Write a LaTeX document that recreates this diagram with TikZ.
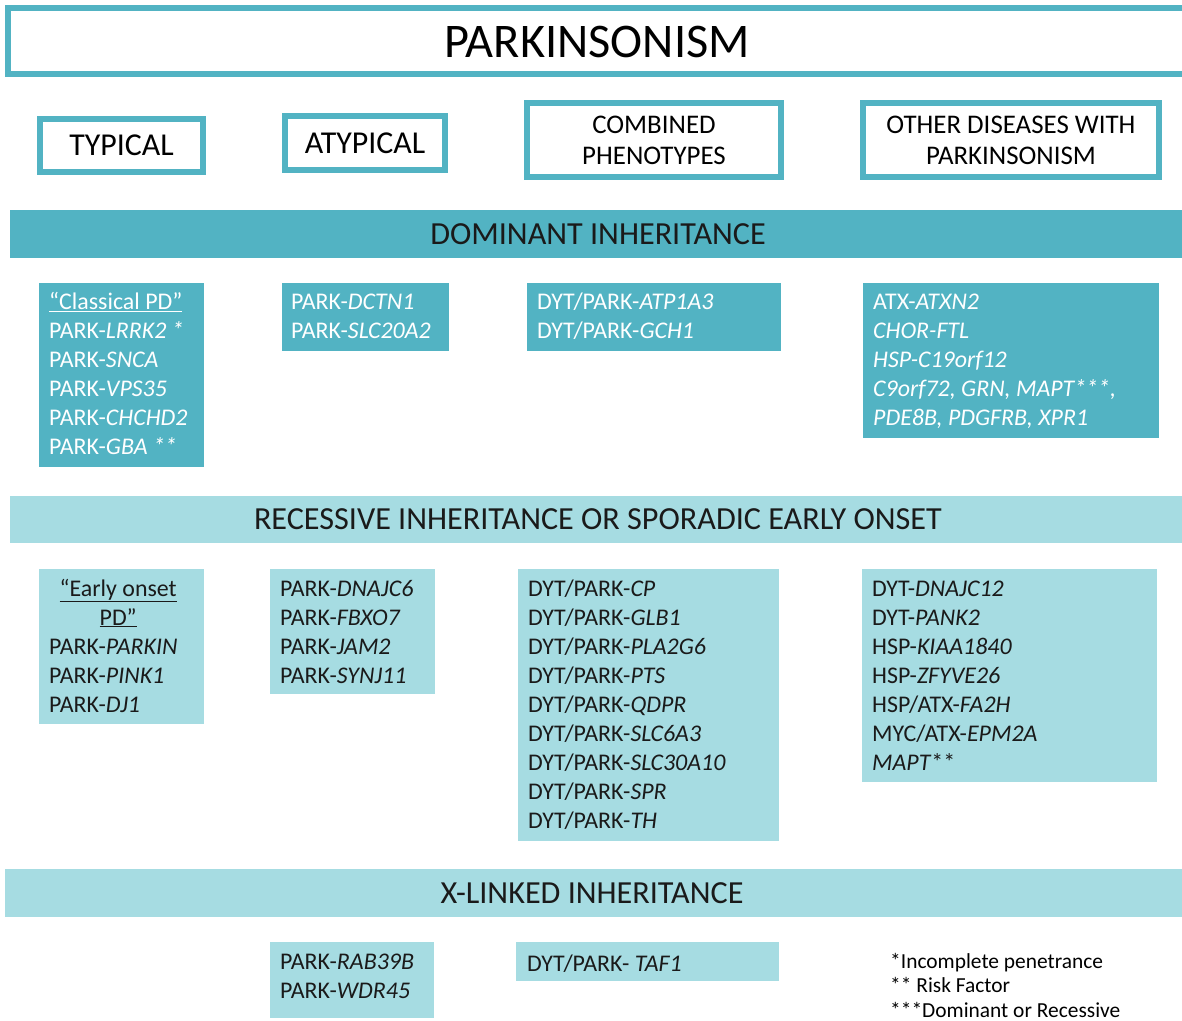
\documentclass[tikz,border=0pt]{standalone}
\usepackage{fontspec}
\setmainfont{Carlito}
\definecolor{tealD}{HTML}{52B3C3}
\definecolor{tealL}{HTML}{A6DCE2}
\definecolor{ink}{HTML}{1A1A1A}
\newcommand{\boxfont}{\fontsize{24}{29.2}\selectfont}
\newcommand{\lines}[1]{\parbox[t]{320bp}{\boxfont #1}}
\begin{document}
\begin{tikzpicture}[x=1bp,y=-1bp,
  frame/.style={draw=tealD, line width=6bp, fill=white, inner sep=0, align=center},
  bandD/.style={fill=tealD, inner sep=0, anchor=north west},
  bandL/.style={fill=tealL, inner sep=0, anchor=north west},
  bandtxt/.style={inner sep=0, font=\fontsize{32.3}{36}\selectfont, text=ink},
  darkbox/.style={fill=tealD, inner sep=0, anchor=north west},
  lightbox/.style={fill=tealL, inner sep=0, anchor=north west},
  wtxt/.style={anchor=base west, inner sep=0, text=white},
  btxt/.style={anchor=base west, inner sep=0, text=ink},
  note/.style={anchor=base west, inner sep=0, text=black, font=\fontsize{21.5}{25}\selectfont}
]
\useasboundingbox (0,0) rectangle (1182,1021);
% title
\node[frame, minimum width=1300bp, minimum height=66bp] (title) at (658,41) {};
\node[inner sep=0, font=\fontsize{48.5}{52}\selectfont] (titlet) at (597,42) {PARKINSONISM};
% headers
\node[frame, minimum width=163bp, minimum height=53bp, font=\fontsize{32}{34}\selectfont] (typ) at (121.5,145.5) {TYPICAL};
\node[frame, minimum width=160bp, minimum height=54bp, font=\fontsize{32}{34}\selectfont] (atyp) at (365,143) {ATYPICAL};
\node[frame, minimum width=254bp, minimum height=74bp, font=\fontsize{27}{31}\selectfont] (comb) at (654,140) {COMBINED\\PHENOTYPES};
\node[frame, minimum width=296bp, minimum height=74bp, font=\fontsize{27}{31}\selectfont] (other) at (1011,140) {OTHER DISEASES WITH\\PARKINSONISM};
% bands
\node[bandD, minimum width=1180bp, minimum height=48bp] (dom) at (10,210) {};
\node[bandtxt] (domt) at (598,234) {DOMINANT INHERITANCE};
\node[bandL, minimum width=1180bp, minimum height=47bp] (rec) at (10,496) {};
\node[bandtxt] (rect) at (598,519) {RECESSIVE INHERITANCE OR SPORADIC EARLY ONSET};
\node[bandL, minimum width=1185bp, minimum height=48bp] (xl) at (5,869) {};
\node[bandtxt] (xlt) at (592,893) {X-LINKED INHERITANCE};
% dominant boxes
\node[darkbox, minimum width=165bp, minimum height=184bp] (d1) at (39,283) {};
\node[wtxt] (d1t) at (49,309.5) {\lines{\underline{“Classical PD”}\\PARK-\textit{LRRK2 *}\\PARK-\textit{SNCA}\\PARK-\textit{VPS35}\\PARK-\textit{CHCHD2}\\PARK-\textit{GBA **}}};
\node[darkbox, minimum width=167bp, minimum height=68bp] (d2) at (282,283) {};
\node[wtxt] (d2t) at (291,309.5) {\lines{PARK-\textit{DCTN1}\\PARK-\textit{SLC20A2}}};
\node[darkbox, minimum width=254bp, minimum height=68bp] (d3) at (527,283) {};
\node[wtxt] (d3t) at (537,309.5) {\lines{DYT/PARK-\textit{ATP1A3}\\DYT/PARK-\textit{GCH1}}};
\node[darkbox, minimum width=296bp, minimum height=155bp] (d4) at (863,283) {};
\node[wtxt] (d4t) at (873,309.5) {\lines{ATX-\textit{ATXN2}\\\textit{CHOR-FTL}\\\textit{HSP-C19orf12}\\\textit{C9orf72, GRN, MAPT***,}\\\textit{PDE8B, PDGFRB, XPR1}}};
% recessive boxes
\node[lightbox, minimum width=165bp, minimum height=155bp] (r1) at (39,569) {};
\node[btxt] (r1t) at (49,596) {\lines{\makebox[138bp]{\underline{“Early onset}}\\\makebox[138bp]{\underline{PD”}}\\PARK-\textit{PARKIN}\\PARK-\textit{PINK1}\\PARK-\textit{DJ1}}};
\node[lightbox, minimum width=165bp, minimum height=125bp] (r2) at (270,569) {};
\node[btxt] (r2t) at (280,596) {\lines{PARK-\textit{DNAJC6}\\PARK-\textit{FBXO7}\\PARK-\textit{JAM2}\\PARK-\textit{SYNJ11}}};
\node[lightbox, minimum width=261bp, minimum height=272bp] (r3) at (518,569) {};
\node[btxt] (r3t) at (528,596) {\lines{DYT/PARK-\textit{CP}\\DYT/PARK-\textit{GLB1}\\DYT/PARK-\textit{PLA2G6}\\DYT/PARK-\textit{PTS}\\DYT/PARK-\textit{QDPR}\\DYT/PARK-\textit{SLC6A3}\\DYT/PARK-\textit{SLC30A10}\\DYT/PARK-\textit{SPR}\\DYT/PARK-\textit{TH}}};
\node[lightbox, minimum width=295bp, minimum height=213bp] (r4) at (862,569) {};
\node[btxt] (r4t) at (872,596) {\lines{DYT-\textit{DNAJC12}\\DYT-\textit{PANK2}\\HSP-\textit{KIAA1840}\\HSP-\textit{ZFYVE26}\\HSP/ATX-\textit{FA2H}\\MYC/ATX-\textit{EPM2A}\\\textit{MAPT}**}};
% x-linked boxes
\node[lightbox, minimum width=164bp, minimum height=76bp] (x1) at (270,942) {};
\node[btxt] (x1t) at (280,969) {\lines{PARK-\textit{RAB39B}\\PARK-\textit{WDR45}}};
\node[lightbox, minimum width=263bp, minimum height=39bp] (x2) at (516,942) {};
\node[btxt] (x2t) at (527,971) {\lines{DYT/PARK- \textit{TAF1}}};
% notes
\node[note] (n1) at (890,968) {*Incomplete penetrance};
\node[note] (n2) at (890,992.5) {** Risk Factor};
\node[note] (n3) at (890,1017) {***Dominant or Recessive};
\end{tikzpicture}
\end{document}
